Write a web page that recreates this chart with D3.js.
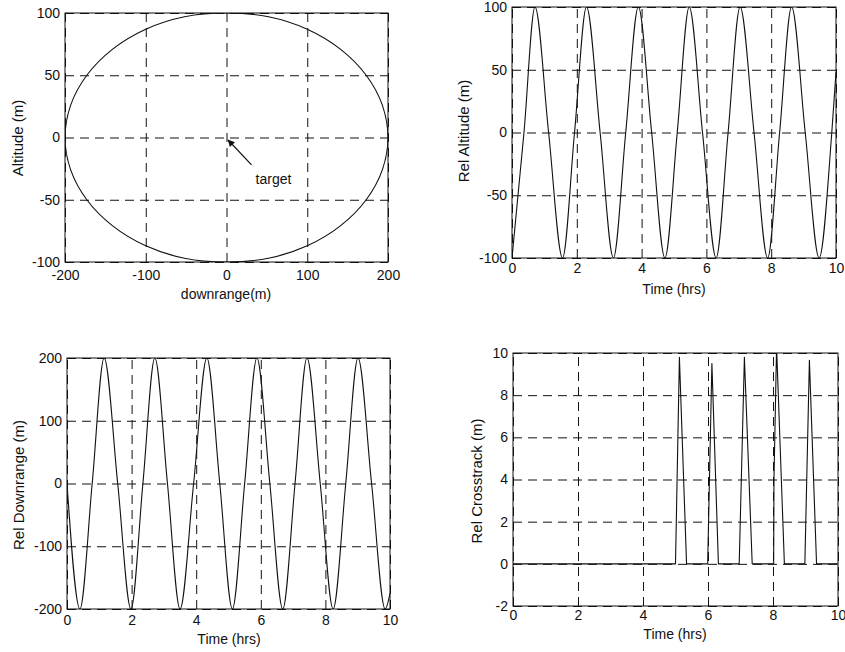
<!DOCTYPE html>
<html>
<head>
<meta charset="utf-8">
<script src="https://cdn.jsdelivr.net/npm/d3@7"></script>
<style>
  html, body { margin: 0; padding: 0; background: #fff; }
  svg { display: block; }
  text { font-family: "Liberation Sans", Arial, Helvetica, sans-serif; fill: #111; }
</style>
</head>
<body>
<svg id="chart" width="845" height="652"></svg>
<script>
// ---------- DATA ----------
// Panel 1: orbit relative to target (downrange vs altitude)
const ellipseDownrange = [200, 193, 173, 141, 100, 52, 0, -52, -100, -141, -173, -193,
                          -200, -193, -173, -141, -100, -52, 0, 52, 100, 141, 173, 193];
const ellipseAltitude  = [0, 26, 50, 71, 87, 97, 100, 97, 87, 71, 50, 26,
                          0, -26, -50, -71, -87, -97, -100, -97, -87, -71, -50, -26];
const downrangeTicks = [-200, -100, 0, 100, 200];
const altitudeTicks = [-100, -50, 0, 50, 100];
const targetLabel = "target";

// Panel 2: relative altitude vs time
const relAltTime  = [0, 0.37, 0.71, 1.13, 1.56, 1.93, 2.30, 2.72, 3.13, 3.51, 3.90, 4.31, 4.72,
                     5.10, 5.47, 5.88, 6.30, 6.67, 7.04, 7.47, 7.89, 8.26, 8.63, 9.05, 9.48, 9.87, 10];
const relAltValue = [-100, 0, 100, 0, -100, 0, 100, 0, -100, 0, 100, 0, -100,
                     0, 100, 0, -100, 0, 100, 0, -100, 0, 100, 0, -100, 0, 48];
const timeTicks = [0, 2, 4, 6, 8, 10];

// Panel 3: relative downrange vs time
const relDrTime  = [0, 0.40, 0.78, 1.15, 1.57, 1.98, 2.35, 2.72, 3.11, 3.50, 3.92, 4.33, 4.73,
                    5.12, 5.50, 5.88, 6.28, 6.68, 7.06, 7.43, 7.84, 8.24, 8.63, 9.01, 9.43, 9.85, 10];
const relDrValue = [0, -200, 0, 200, 0, -200, 0, 200, 0, -200, 0, 200, 0,
                    -200, 0, 200, 0, -200, 0, 200, 0, -200, 0, 200, 0, -200, -175];
const relDrTicks = [-200, -100, 0, 100, 200];

// Panel 4: relative crosstrack vs time
const crossTime  = [0, 5.00, 5.12, 5.34, 5.99, 6.12, 6.32, 6.96, 7.12, 7.36,
                    8.02, 8.03, 8.11, 8.35, 8.98, 9.12, 9.34, 10];
const crossValue = [0, 0, 9.8, 0, 0, 9.5, 0, 0, 9.8, 0,
                    0, 4, 10.3, 0, 0, 9.65, 0, 0];
const crossTicks = [-2, 0, 2, 4, 6, 8, 10];

// ---------- DRAWING ----------
const svg = d3.select("#chart");
const TICK_FONT = 14;
const XLAB_FONT = 14;
const YLAB_FONT = 15;
const INK = "#111";
const fmt = d => String(d);   // ASCII hyphen-minus like the original

function panel(cfg) {
  const x = d3.scaleLinear().domain(cfg.xDomain).range([cfg.left, cfg.right]);
  const y = d3.scaleLinear().domain(cfg.yDomain).range([cfg.bottom, cfg.top]);
  const w = cfg.right - cfg.left, h = cfg.bottom - cfg.top;
  const g = svg.append("g");

  // vertical grid
  const gx = g.append("g")
    .attr("transform", `translate(0,${cfg.bottom})`)
    .call(d3.axisBottom(x).tickValues(cfg.xTicks).tickSize(-h).tickFormat(""));
  gx.select(".domain").remove();
  gx.selectAll("line").attr("stroke", INK).attr("stroke-width", 1).attr("stroke-dasharray", "9,6");

  // horizontal grid
  const gy = g.append("g")
    .attr("transform", `translate(${cfg.left},0)`)
    .call(d3.axisLeft(y).tickValues(cfg.yTicks).tickSize(-w).tickFormat(""));
  gy.select(".domain").remove();
  gy.selectAll("line").attr("stroke", INK).attr("stroke-width", 1).attr("stroke-dasharray", "9,6");

  // tick labels
  const ax = g.append("g")
    .attr("transform", `translate(0,${cfg.bottom})`)
    .call(d3.axisBottom(x).tickValues(cfg.xTicks).tickSize(0).tickPadding(cfg.xPad).tickFormat(fmt));
  ax.select(".domain").remove();
  ax.selectAll("text").attr("font-size", TICK_FONT).attr("fill", INK)
    .style("font-family", '"Liberation Sans", Arial, sans-serif');

  const ay = g.append("g")
    .attr("transform", `translate(${cfg.left},0)`)
    .call(d3.axisLeft(y).tickValues(cfg.yTicks).tickSize(0).tickPadding(5).tickFormat(fmt));
  ay.select(".domain").remove();
  ay.selectAll("text").attr("font-size", TICK_FONT).attr("fill", INK)
    .style("font-family", '"Liberation Sans", Arial, sans-serif');

  // clip
  const cid = "clip" + cfg.id;
  svg.append("clipPath").attr("id", cid).append("rect")
    .attr("x", cfg.left).attr("y", cfg.top).attr("width", w).attr("height", h);

  // data line
  const pts = cfg.xs.map((v, i) => [v, cfg.ys[i]]);
  const line = d3.line().x(d => x(d[0])).y(d => y(d[1])).curve(cfg.curve);
  g.append("path").datum(pts)
    .attr("clip-path", `url(#${cid})`)
    .attr("d", line)
    .attr("fill", "none").attr("stroke", INK).attr("stroke-width", 1.1)
    .attr("stroke-linejoin", "round");

  // box
  g.append("rect").attr("x", cfg.left).attr("y", cfg.top).attr("width", w).attr("height", h)
    .attr("fill", "none").attr("stroke", INK).attr("stroke-width", 1);

  // axis labels
  g.append("text").attr("x", cfg.xLabelPos[0]).attr("y", cfg.xLabelPos[1])
    .attr("text-anchor", "middle").attr("font-size", XLAB_FONT).text(cfg.xLabel);
  g.append("text")
    .attr("transform", `translate(${cfg.yLabelPos[0]},${cfg.yLabelPos[1]}) rotate(-90)`)
    .attr("text-anchor", "middle").attr("font-size", YLAB_FONT).text(cfg.yLabel);

  return { g, x, y };
}

// Panel 1
const p1 = panel({
  id: 1, left: 65, right: 388, top: 13, bottom: 262,
  xDomain: [-200, 200], yDomain: [-100, 100], xTicks: downrangeTicks, yTicks: altitudeTicks,
  xs: ellipseDownrange, ys: ellipseAltitude, curve: d3.curveCatmullRomClosed,
  xPad: 8, xLabel: "downrange(m)", xLabelPos: [226, 299],
  yLabel: "Altitude (m)", yLabelPos: [23, 138]
});

// target annotation (arrow from label toward origin)
const defs = svg.append("defs");
defs.append("marker").attr("id", "arrowhead").attr("viewBox", "0 0 10 10")
  .attr("refX", 9).attr("refY", 5).attr("markerWidth", 9).attr("markerHeight", 7)
  .attr("markerUnits", "userSpaceOnUse").attr("orient", "auto")
  .append("path").attr("d", "M0,0 L10,5 L0,10 Z").attr("fill", INK);
p1.g.append("line")
  .attr("x1", p1.x(31)).attr("y1", p1.y(-22))
  .attr("x2", p1.x(2)).attr("y2", p1.y(-2))
  .attr("stroke", INK).attr("stroke-width", 1.2)
  .attr("marker-end", "url(#arrowhead)");
p1.g.append("text").attr("x", p1.x(36)).attr("y", p1.y(-37))
  .attr("font-size", XLAB_FONT).text(targetLabel);

// Panel 2
panel({
  id: 2, left: 512, right: 836, top: 7, bottom: 258,
  xDomain: [0, 10], yDomain: [-100, 100], xTicks: timeTicks, yTicks: altitudeTicks,
  xs: relAltTime, ys: relAltValue, curve: d3.curveMonotoneX,
  xPad: 5, xLabel: "Time (hrs)", xLabelPos: [674, 294],
  yLabel: "Rel Altitude (m)", yLabelPos: [469, 131]
});

// Panel 3
panel({
  id: 3, left: 67, right: 390, top: 358, bottom: 609,
  xDomain: [0, 10], yDomain: [-200, 200], xTicks: timeTicks, yTicks: relDrTicks,
  xs: relDrTime, ys: relDrValue, curve: d3.curveMonotoneX,
  xPad: 6, xLabel: "Time (hrs)", xLabelPos: [229, 644],
  yLabel: "Rel Downrange (m)", yLabelPos: [24, 485]
});

// Panel 4
panel({
  id: 4, left: 513, right: 838, top: 353, bottom: 606,
  xDomain: [0, 10], yDomain: [-2, 10], xTicks: timeTicks, yTicks: crossTicks,
  xs: crossTime, ys: crossValue, curve: d3.curveLinear,
  xPad: 4, xLabel: "Time (hrs)", xLabelPos: [675, 639],
  yLabel: "Rel Crosstrack (m)", yLabelPos: [482, 481]
});
</script>
</body>
</html>
